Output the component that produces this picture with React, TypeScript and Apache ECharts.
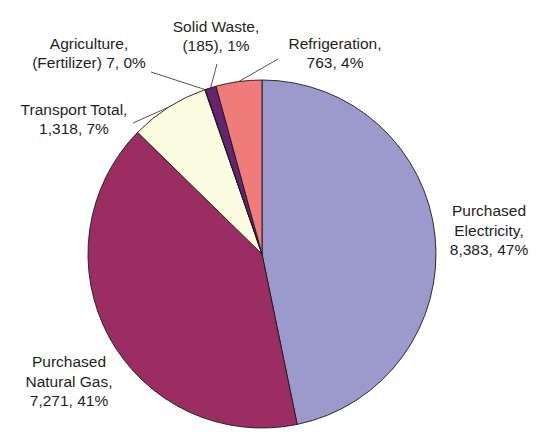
import React, { useEffect, useRef } from "react";
import * as echarts from "echarts";

const categories = [
  "Purchased Electricity",
  "Purchased Natural Gas",
  "Transport Total",
  "Agriculture (Fertilizer)",
  "Solid Waste",
  "Refrigeration",
];
const values = [8383, 7271, 1318, 7, 185, 763];
const labelHeads = [
  "Purchased\nElectricity,",
  "Purchased\nNatural Gas,",
  "Transport Total,",
  "Agriculture,\n(Fertilizer)",
  "Solid Waste,",
  "Refrigeration,",
];
const valueTexts = ["8,383", "7,271", "1,318", "7", "(185)", "763"];
const headSeparators = ["\n", "\n", "\n", " ", "\n", "\n"];
const colors = ["#9c9acd", "#9b2d62", "#fcfce0", "#d9d9b0", "#652470", "#ef7b7b"];
const showLines = [false, false, true, true, true, true];

// label centres and leader-line ends (layout only)
const labelPos: [number, number][] = [
  [489, 230],
  [69, 381],
  [74, 119],
  [89, 53],
  [216, 36],
  [335, 53],
];
const lineEnds: ([number, number] | null)[] = [
  null,
  null,
  [133, 123],
  [151, 72],
  [217, 64],
  [278, 59],
];

export default function App() {
  const ref = useRef<HTMLDivElement>(null);
  useEffect(() => {
    if (!ref.current) return;
    const chart = echarts.init(ref.current, undefined, { renderer: "svg" });
    chart.setOption({
      animation: false,
      backgroundColor: "#ffffff",
      series: [
        {
          type: "pie",
          center: [262, 254],
          radius: 174,
          startAngle: 90,
          clockwise: true,
          avoidLabelOverlap: false,
          minShowLabelAngle: 0,
          itemStyle: { borderColor: "#1a1a1a", borderWidth: 0.9 },
          label: {
            show: true,
            position: "outside",
            fontFamily: "Liberation Sans, Arial, sans-serif",
            fontSize: 15.5,
            lineHeight: 19.5,
            color: "#1e1e1e",
            align: "center",
          },
          labelLine: {
            show: true,
            length: 8,
            length2: 8,
            smooth: false,
            lineStyle: { color: "#555555", width: 1 },
          },
          labelLayout: (p: any) => {
            const i = p.dataIndex;
            const out: any = {
              x: labelPos[i][0],
              y: labelPos[i][1],
              align: "center",
              verticalAlign: "middle",
            };
            const end = lineEnds[i];
            if (end && p.labelLinePoints && p.labelLinePoints[0]) {
              out.labelLinePoints = [p.labelLinePoints[0], end];
            }
            return out;
          },
          data: categories.map((name, i) => ({
            name,
            value: values[i],
            itemStyle: { color: colors[i] },
            labelLine: { show: showLines[i] },
            label: {
              formatter: (p: any) =>
                labelHeads[i] +
                headSeparators[i] +
                valueTexts[i] +
                ", " +
                Math.round(p.percent) +
                "%",
            },
          })),
        },
      ],
    });
    return () => chart.dispose();
  }, []);
  return (
    <div
      ref={ref}
      style={{ position: "fixed", left: 0, top: 0, width: 545, height: 439 }}
    />
  );
}
